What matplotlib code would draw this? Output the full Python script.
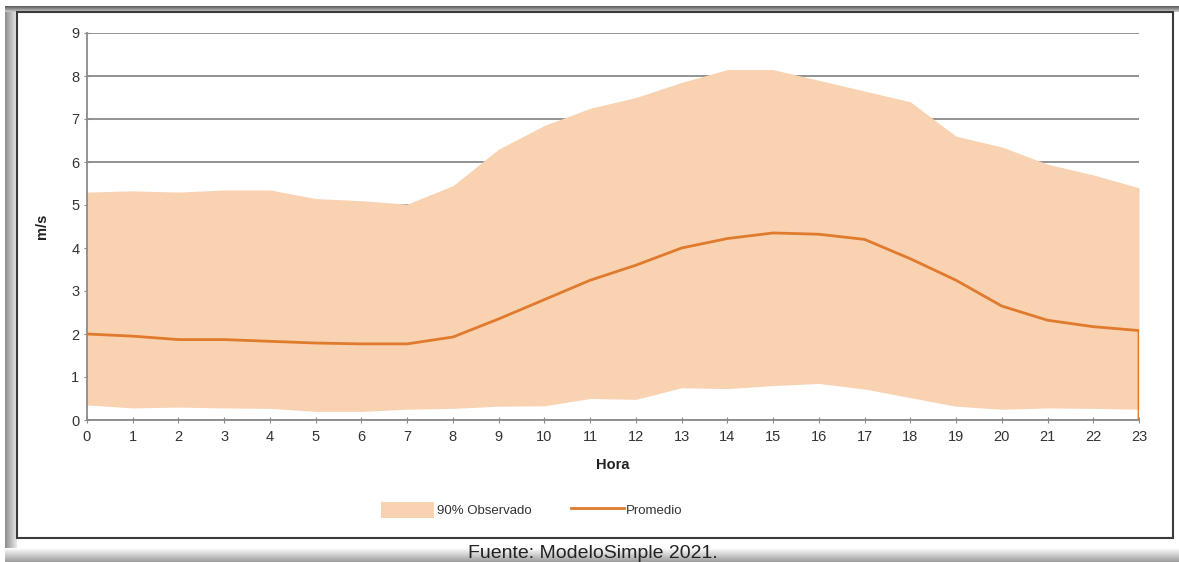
import numpy as np
import matplotlib
matplotlib.use("Agg")
import matplotlib.pyplot as plt

plt.rcParams['font.family'] = ['Liberation Sans', 'DejaVu Sans']

# Hourly wind speed (m/s)
horas = list(range(24))
banda_sup = [5.30, 5.33, 5.30, 5.35, 5.35, 5.15, 5.10, 5.02, 5.45, 6.30, 6.85, 7.25,
             7.50, 7.85, 8.15, 8.15, 7.90, 7.65, 7.40, 6.60, 6.35, 5.95, 5.70, 5.40]
banda_inf = [0.35, 0.28, 0.30, 0.28, 0.27, 0.20, 0.20, 0.25, 0.27, 0.32, 0.33, 0.50,
             0.48, 0.75, 0.73, 0.80, 0.85, 0.72, 0.52, 0.32, 0.25, 0.28, 0.27, 0.25]
promedio = [2.00, 1.95, 1.87, 1.87, 1.83, 1.79, 1.77, 1.77, 1.93, 2.35, 2.80, 3.25,
            3.60, 4.00, 4.22, 4.35, 4.32, 4.20, 3.75, 3.25, 2.65, 2.32, 2.17, 2.08]
# the series closes with a drop to zero at the last hour
horas_linea = horas + [23]
promedio_linea = promedio + [0.0]

W, H = 1179, 562
fig = plt.figure(figsize=(W / 100, H / 100), dpi=100)

# screenshot frame drawn in pixel coordinates
bg = fig.add_axes([0, 0, 1, 1], zorder=0)
bg.axis('off')
grad_h = np.linspace(0.55, 0.92, 64).reshape(1, -1)
bg.imshow(grad_h, cmap='gray', vmin=0, vmax=1, extent=(5, 17, H, 6),
          aspect='auto', zorder=2)
grad_v = np.linspace(0.35, 0.8, 16).reshape(-1, 1)
bg.imshow(grad_v, cmap='gray', vmin=0, vmax=1, extent=(5, W, 12, 6),
          aspect='auto', zorder=2)
grad_b = np.linspace(0.99, 0.62, 16).reshape(-1, 1)
bg.imshow(grad_b, cmap='gray', vmin=0, vmax=1, extent=(5, W, H, 548),
          aspect='auto', zorder=2)
bg.add_patch(plt.Rectangle((17, 12), 1156, 526, facecolor='white',
                           edgecolor='#3a3a3a', linewidth=1.5, zorder=3))
bg.set_xlim(0, W)
bg.set_ylim(H, 0)

ax = fig.add_axes([87 / W, 1 - 420 / H, (1139 - 87) / W, (420 - 33) / H], zorder=2)
ax.patch.set_alpha(0)

ax.fill_between(horas, banda_inf, banda_sup, color='#f9d2b2', linewidth=0,
                label='90% Observado', zorder=2)
ax.plot(horas_linea, promedio_linea, color='#e07a2c', linewidth=2,
        label='Promedio', zorder=3)

ax.set_xlim(0, 23)
ax.set_ylim(0, 9)
ax.set_xticks(horas)
ax.set_yticks(range(10))
ax.grid(axis='y', color='#8a8a8a', linewidth=1.3, zorder=1)
ax.set_axisbelow(True)
for s in ['top', 'right']:
    ax.spines[s].set_visible(False)
for s in ['left', 'bottom']:
    ax.spines[s].set_color('#8a8a8a')
    ax.spines[s].set_linewidth(1.3)
ax.tick_params(colors='#8a8a8a', labelcolor='#333333', labelsize=10.5,
               length=4, direction='inout')
ax.tick_params(axis='x', pad=5)

ax.set_xlabel('Hora', fontsize=10.5, fontweight='bold', color='#222222', labelpad=10)
ax.set_ylabel('m/s', fontsize=10.5, fontweight='bold', color='#222222', labelpad=16)

leg = fig.legend(loc='center', bbox_to_anchor=(532 / W, 1 - 510 / H), ncol=2,
                 frameon=False, fontsize=9.5, handlelength=4.0, handleheight=1.5,
                 handletextpad=0.2, columnspacing=3.0, labelcolor='#333333')

fig.text(593 / W, 1 - 553 / H, 'Fuente: ModeloSimple 2021.', fontsize=14,
         color='#222222', ha='center', va='center', zorder=5)

fig.savefig('out.png', dpi=100)
